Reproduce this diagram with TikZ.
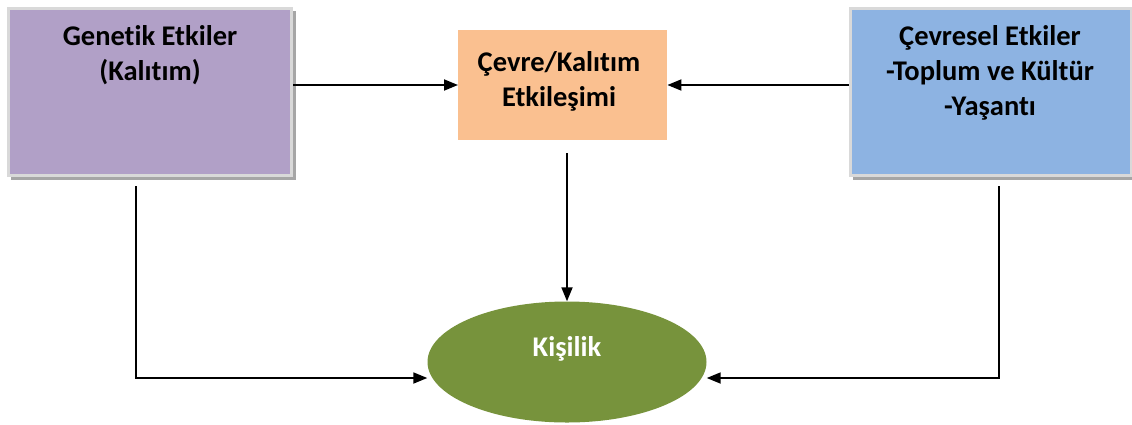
\documentclass[tikz,border=0pt]{standalone}
\usepackage{fontspec}
\setmainfont{Carlito}[Ligatures=NoCommon]
\usetikzlibrary{arrows.meta,shapes.geometric}
\definecolor{genfill}{HTML}{B1A0C7}
\definecolor{envfill}{HTML}{8DB3E2}
\definecolor{mixfill}{HTML}{FAC090}
\definecolor{perfill}{HTML}{77933C}
\definecolor{boxedge}{HTML}{D9D9D9}
\definecolor{boxshade}{HTML}{A6A6A6}
\tikzset{
  x=1pt, y=-1pt,
  sidebox/.style={rectangle, draw=boxedge, line width=3pt, inner sep=0pt, anchor=north west},
  caption/.style={font=\fontsize{28.5}{35}\selectfont\bfseries, align=center, anchor=north, inner sep=0pt},
  link/.style={line width=1.8pt, -{Triangle[length=14pt,width=11pt]}}
}
\begin{document}
\begin{tikzpicture}
\useasboundingbox (0,0) rectangle (1132,424);
% drop shadows of the two side boxes
\fill[boxshade] (11,11) rectangle (296,180);
\fill[boxshade] (853,11) rectangle (1132,180);
% side boxes
\node[sidebox, fill=genfill, minimum width=283pt, minimum height=167pt] (gen) at (7,7) {};
\node[sidebox, fill=envfill, minimum width=281pt, minimum height=167pt] (env) at (849,7) {};
% middle box
\node[rectangle, fill=mixfill, minimum width=209pt, minimum height=110pt, anchor=north west, inner sep=0pt] (mix) at (458,30) {};
% result ellipse
\node[ellipse, fill=perfill, minimum width=279pt, minimum height=121pt, inner sep=0pt] (per) at (567,362) {};
% texts
\node[caption] (gentext) at (150,25) {Genetik Etkiler\\(Kalıtım)};
\node[caption] (envtext) at (990,25) {Çevresel Etkiler\\-Toplum ve Kültür\\-Yaşantı};
\node[caption] (mixtext) at (559,51) {Çevre/Kalıtım\\Etkileşimi};
\node[caption, text=white] (pertext) at (567,336) {Kişilik};
% free ends of the connectors
\coordinate (genfoot) at (136,186);
\coordinate (envfoot) at (999,186);
\coordinate (mixfoot) at (567,153);
% connectors
\draw[link] (gen.east |- 0,85) -- (mix.west |- 0,85);
\draw[link] (env.west |- 0,85) -- (mix.east |- 0,85);
\draw[link] (mixfoot) -- (per.north);
\draw[link] (genfoot) |- (per.west |- 0,378);
\draw[link] (envfoot) |- (per.east |- 0,378);
\end{tikzpicture}
\end{document}
